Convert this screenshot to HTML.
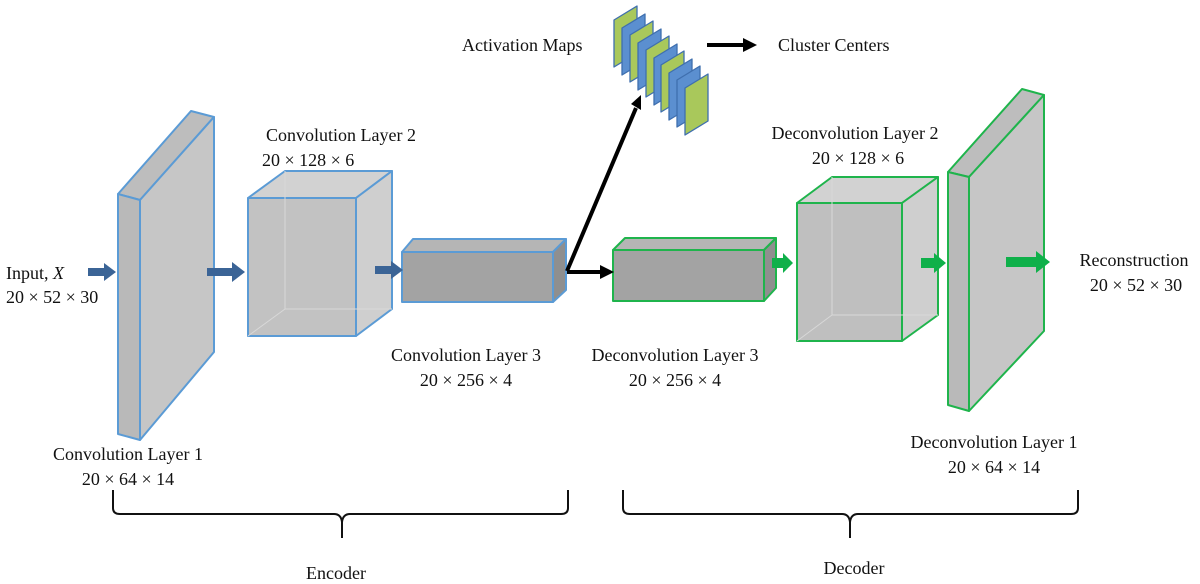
<!DOCTYPE html>
<html><head><meta charset="utf-8"><style>
html,body{margin:0;padding:0;background:#fff;}
svg{display:block;}
text{font-family:"Liberation Serif",serif;font-size:18px;fill:#111;}
</style></head><body>
<svg width="1200" height="584" viewBox="0 0 1200 584" xmlns="http://www.w3.org/2000/svg">

<!-- Encoder Layer 1 -->
<g stroke="#5b9bd5" stroke-width="2" stroke-linejoin="round">
<polygon points="118,194 140,200 214,117 191,111" fill="#bdbdbd"/>
<polygon points="140,200 214,117 214,352 140,440" fill="#c6c6c6"/>
<polygon points="118,194 140,200 140,440 118,434" fill="#b9b9b9"/>
</g>

<!-- Encoder Layer 2 -->
<g stroke="#5b9bd5" stroke-width="2" stroke-linejoin="round">
<polygon points="248,198 356,198 392,171 285,171" fill="#d2d2d2"/>
<polygon points="356,198 392,171 392,309 356,336" fill="#cfcfcf"/>
<rect x="248" y="198" width="108" height="138" fill="#bfbfbf" fill-opacity="0.95"/>
</g>
<g stroke="#d8d8d8" stroke-width="1" fill="none"><path d="M285,171 V309 H392 M285,309 L248,336"/></g>

<!-- Encoder Layer 3 -->
<g stroke="#5b9bd5" stroke-width="2" stroke-linejoin="round">
<polygon points="402,252 553,252 566,239 413,239" fill="#b5b5b5"/>
<polygon points="553,252 566,239 566,290 553,302" fill="#8f8f8f"/>
<rect x="402" y="252" width="151" height="50" fill="#a3a3a3"/>
</g>

<!-- Decoder Layer 3 -->
<g stroke="#1fb44c" stroke-width="2" stroke-linejoin="round">
<polygon points="613,250 764,250 776,238 625,238" fill="#b5b5b5"/>
<polygon points="764,250 776,238 776,288 764,301" fill="#8f8f8f"/>
<rect x="613" y="250" width="151" height="51" fill="#a3a3a3"/>
</g>

<!-- Decoder Layer 2 -->
<g stroke="#1fb44c" stroke-width="2" stroke-linejoin="round">
<polygon points="797,203 902,203 938,177 832,177" fill="#d2d2d2"/>
<polygon points="902,203 938,177 938,315 902,341" fill="#cfcfcf"/>
<rect x="797" y="203" width="105" height="138" fill="#bfbfbf"/>
</g>
<g stroke="#d8d8d8" stroke-width="1" fill="none"><path d="M832,177 V315 H938 M832,315 L797,341"/></g>

<!-- Decoder Layer 1 -->
<g stroke="#1fb44c" stroke-width="2" stroke-linejoin="round">
<polygon points="948,172 969,177 1044,95 1022,89" fill="#bdbdbd"/>
<polygon points="969,177 1044,95 1044,331 969,411" fill="#c6c6c6"/>
<polygon points="948,172 969,177 969,411 948,405" fill="#b9b9b9"/>
</g>

<!-- Activation maps -->
<g stroke="#3f6fae" stroke-width="1.3" stroke-linejoin="round">
<polygon points="614,20 637,6 637,53 614,67" fill="#a9c85b"/>
<polygon points="622,28 645,14 645,61 622,75" fill="#5b8fd0"/>
<polygon points="630,35 653,21 653,68 630,82" fill="#a9c85b"/>
<polygon points="638,43 661,29 661,76 638,90" fill="#5b8fd0"/>
<polygon points="646,50 669,36 669,83 646,97" fill="#a9c85b"/>
<polygon points="654,58 677,44 677,91 654,105" fill="#5b8fd0"/>
<polygon points="661,65 684,51 684,98 661,112" fill="#a9c85b"/>
<polygon points="669,73 692,59 692,106 669,120" fill="#5b8fd0"/>
<polygon points="677,80 700,66 700,113 677,127" fill="#5b8fd0"/>
<polygon points="685,88 708,74 708,121 685,135" fill="#a9c85b"/>
</g>

<!-- blue arrows -->
<g fill="#3b6496">
<polygon points="88,268 104,268 104,263 116,272 104,281 104,276 88,276"/>
<polygon points="207,268 232,268 232,262 245,272 232,282 232,276 207,276"/>
<polygon points="375,266 391,266 391,261 403,270 391,279 391,274 375,274"/>
</g>
<!-- green arrows -->
<g fill="#0fb04a">
<polygon points="772,258 783,258 783,253 793,263 783,273 783,268 772,268"/>
<polygon points="921,258 934,258 934,253 946,263 934,273 934,268 921,268"/>
<polygon points="1006,257 1036,257 1036,251 1050,262 1036,273 1036,267 1006,267"/>
</g>

<!-- black arrows -->
<g stroke="#000" stroke-width="4" fill="none">
<line x1="567" y1="272" x2="602" y2="272"/>
<line x1="567" y1="271" x2="636" y2="108"/>
<line x1="707" y1="45" x2="745" y2="45"/>
</g>
<polygon points="600,265 614,272 600,279" fill="#000"/>
<polygon points="631,104 641,95 641,110" fill="#000"/>
<polygon points="743,38 757,45 743,52" fill="#000"/>

<!-- braces -->
<g stroke="#111" stroke-width="2" fill="none">
<path d="M113,490 V508 Q113,514 120,514 H334 Q341,514 342,522 V538 M342,522 Q343,514 350,514 H561 Q568,514 568,508 V490"/>
<path d="M623,490 V508 Q623,514 630,514 H842 Q849,514 850,522 V538 M850,522 Q851,514 858,514 H1071 Q1078,514 1078,508 V490"/>
</g>

<!-- labels -->
<text x="6" y="279">Input, <tspan font-style="italic">X</tspan></text>
<text x="6" y="303">20 × 52 × 30</text>
<text x="266" y="141">Convolution Layer 2</text>
<text x="262" y="166">20 × 128 × 6</text>
<text x="466" y="361" text-anchor="middle">Convolution Layer 3</text>
<text x="466" y="386" text-anchor="middle">20 × 256 × 4</text>
<text x="675" y="361" text-anchor="middle">Deconvolution Layer 3</text>
<text x="675" y="386" text-anchor="middle">20 × 256 × 4</text>
<text x="855" y="139" text-anchor="middle">Deconvolution Layer 2</text>
<text x="858" y="164" text-anchor="middle">20 × 128 × 6</text>
<text x="128" y="460" text-anchor="middle">Convolution Layer 1</text>
<text x="128" y="485" text-anchor="middle">20 × 64 × 14</text>
<text x="994" y="448" text-anchor="middle">Deconvolution Layer 1</text>
<text x="994" y="473" text-anchor="middle">20 × 64 × 14</text>
<text x="1134" y="266" text-anchor="middle">Reconstruction</text>
<text x="1136" y="291" text-anchor="middle">20 × 52 × 30</text>
<text x="462" y="51">Activation Maps</text>
<text x="778" y="51">Cluster Centers</text>
<text x="336" y="579" text-anchor="middle">Encoder</text>
<text x="854" y="574" text-anchor="middle">Decoder</text>
</svg>
</body></html>
